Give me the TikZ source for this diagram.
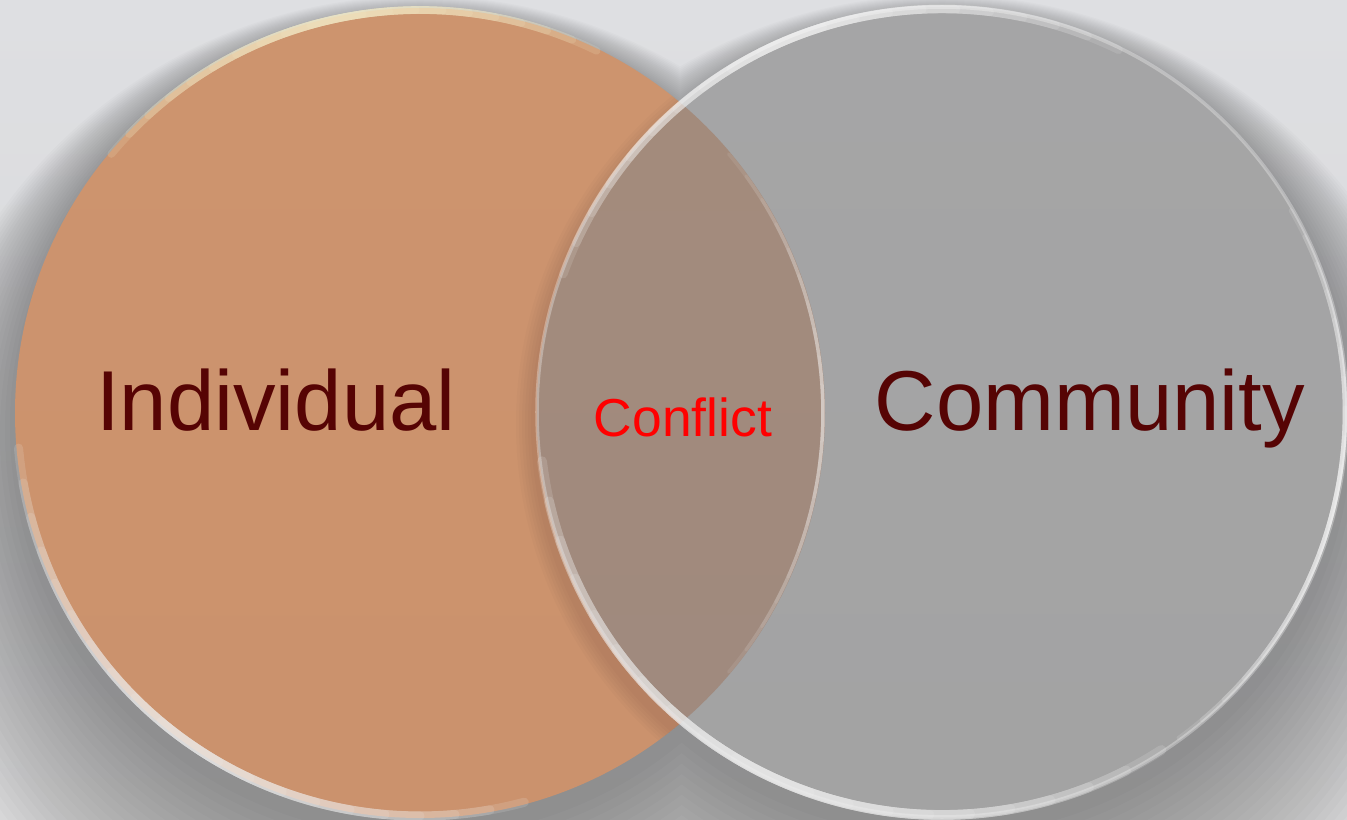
\documentclass[tikz,border=0pt]{standalone}
\usepackage{fontspec}
\setmainfont{Liberation Sans}
\usepackage{tikz}

\definecolor{bgtop}{HTML}{DEDFE2}
\definecolor{bgbot}{HTML}{D7D7D8}
\definecolor{indtop}{HTML}{CD946E}
\definecolor{indmid}{HTML}{C38963}
\definecolor{indbot}{HTML}{CB926D}
\definecolor{comtop}{HTML}{A5A5A6}
\definecolor{combot}{HTML}{A3A3A3}
\definecolor{mixtop}{HTML}{A48B7C}
\definecolor{mixbot}{HTML}{9F8A7E}
\definecolor{darkred}{HTML}{560404}
\definecolor{cream}{HTML}{F6EECB}
\definecolor{pale}{HTML}{F2F2F2}

\begin{document}
\begin{tikzpicture}[
    biglabel/.style={font=\fontsize{24.2}{29}\selectfont,text=darkred,anchor=base,inner sep=0},
    midlabel/.style={font=\fontsize{15.2}{18}\selectfont,text=red,anchor=base,inner sep=0},
    ring/.style={line width=1pt,draw=white,draw opacity=0.3},
    shadowring/.style={fill=black,fill opacity=0.015}]
  \def\rad{4.05}
  % soft arc: centre, middle angle, half span, colour, width, opacity
  \newcommand\glowarc[6]{%
    \foreach \f in {0.1,0.2,...,1.0}{
      \draw[line width=#5,draw=#4,draw opacity=#6,line cap=round]
        (#1) ++(#2-#3*\f:\rad-0.02) arc[start angle=#2-#3*\f,end angle=#2+#3*\f,radius=\rad-0.02];
    }}
  \useasboundingbox (0,0) rectangle (13.47,8.19);
  \shade[top color=bgtop,bottom color=bgbot] (0,0) rectangle (13.47,8.19);
  \coordinate (indiv) at (4.20,4.06);
  \coordinate (commun) at (9.42,4.07);
  % soft shadow, growing downwards
  \foreach \k in {1,...,22}{
    \pgfmathsetmacro\rr{\rad+0.05*\k}
    \pgfmathsetmacro\dy{0.1+0.04*\k}
    \fill[shadowring] ([yshift=-\dy cm]indiv) circle (\rr) ([yshift=-\dy cm]commun) circle (\rr);
  }
  \shade[top color=indtop,middle color=indmid,bottom color=indbot] (indiv) circle (\rad);
  \begin{scope}
    \clip (indiv) circle (\rad);
    \foreach \k in {1,...,6}{
      \pgfmathsetmacro\rr{\rad+0.03*\k}
      \fill[black,fill opacity=0.014] ([xshift=-0.03cm,yshift=-0.12cm]commun) circle (\rr);
    }
  \end{scope}
  \shade[top color=comtop,bottom color=combot] (commun) circle (\rad);
  % overlap
  \begin{scope}
    \clip (indiv) circle (\rad);
    \shade[top color=mixtop,bottom color=mixbot] (commun) circle (\rad);
  \end{scope}
  % rims and glints
  \glowarc{indiv}{235}{50}{pale}{2.6pt}{0.15}
  \glowarc{indiv}{102}{38}{cream}{2.2pt}{0.16}
  \glowarc{indiv}{0}{40}{white}{1pt}{0.08}
  \draw[ring] (commun) circle (\rad);
  \glowarc{commun}{245}{58}{pale}{2.8pt}{0.16}
  \glowarc{commun}{112}{48}{white}{2.4pt}{0.12}
  \glowarc{commun}{-12}{42}{white}{1.3pt}{0.12}
  % labels
  \node[biglabel] (lblind) at (2.76,3.89) {Individual};
  \node[biglabel] (lblcom) at (10.90,3.89) {Community};
  \node[midlabel] (lblcon) at (6.83,3.82) {Conflict};
\end{tikzpicture}
\end{document}
